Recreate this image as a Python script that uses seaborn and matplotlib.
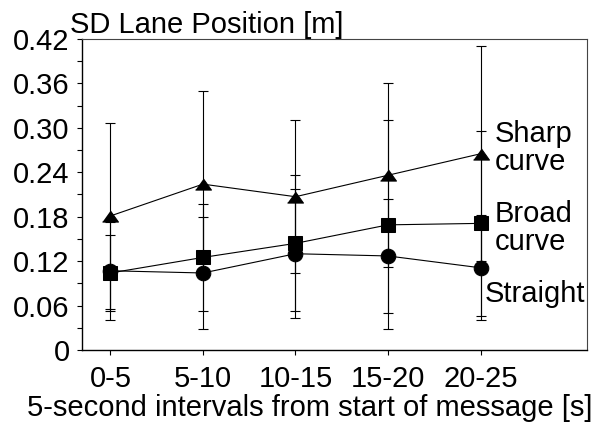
import matplotlib
matplotlib.use("Agg")
import matplotlib.pyplot as plt
from matplotlib.ticker import MultipleLocator, FixedLocator
import numpy as np
import pandas as pd
import seaborn as sns

intervals = ["0-5", "5-10", "10-15", "15-20", "20-25"]
sharp = [0.181, 0.224, 0.207, 0.236, 0.265]
broad = [0.104, 0.125, 0.144, 0.169, 0.171]
straight = [0.107, 0.104, 0.130, 0.127, 0.111]
sharp_sd = [0.125, 0.126, 0.103, 0.124, 0.145]
broad_sd = [0.051, 0.072, 0.092, 0.141, 0.125]
straight_sd = [0.066, 0.075, 0.087, 0.077, 0.071]
series_names = ["Sharp curve", "Broad curve", "Straight"]
y_ticks = [0, 0.06, 0.12, 0.18, 0.24, 0.30, 0.36, 0.42]
y_tick_labels = ["0", "0.06", "0.12", "0.18", "0.24", "0.30", "0.36", "0.42"]

sns.set_theme(style="ticks")
plt.rcParams["font.family"] = ["Liberation Sans", "DejaVu Sans"]
FS = 21

xpos = np.arange(len(intervals))
df = pd.DataFrame({
    "x": np.tile(xpos, 3),
    "sd": sharp + broad + straight,
    "err": sharp_sd + broad_sd + straight_sd,
    "condition": np.repeat(series_names, len(intervals)),
})

tri = np.array([[-1.0, -0.7], [1.0, -0.7], [0.0, 0.7]])
marker_map = {"Sharp curve": (tri, 11.5), "Broad curve": ("s", 10.5), "Straight": ("o", 10.5)}

fig = plt.figure(figsize=(6.06, 4.23), dpi=100)
ax = fig.add_axes([0.1348, 0.1726, 0.8338, 0.7352])

for name in series_names:
    sub = df[df["condition"] == name]
    ax.errorbar(sub["x"], sub["sd"], yerr=sub["err"], fmt="none", ecolor="black",
                elinewidth=0.8, capsize=3.6, capthick=0.8, zorder=2)
for name in series_names:
    sub = df[df["condition"] == name]
    m, ms = marker_map[name]
    sns.lineplot(data=sub, x="x", y="sd", marker=m, markersize=ms, color="black",
                 markeredgecolor="black", markerfacecolor="black", linewidth=0.8,
                 sort=False, legend=False, ax=ax, zorder=3)

ax.set_xlim(-0.31, 5.15)
ax.set_ylim(0, 0.42)
ax.xaxis.set_major_locator(FixedLocator(xpos))
ax.set_xticklabels(intervals)
ax.set_yticks(y_ticks)
ax.set_yticklabels(y_tick_labels)
ax.yaxis.set_minor_locator(MultipleLocator(0.03))
ax.tick_params(axis="both", which="both", direction="out", length=3.6, width=0.8,
               color="black", labelsize=FS, labelcolor="black")
ax.tick_params(axis="y", which="major", pad=5)
ax.tick_params(axis="x", which="major", pad=7.5)
ax.tick_params(axis="x", which="minor", bottom=False)

for side in ["top", "right", "left", "bottom"]:
    ax.spines[side].set_visible(True)
ax.spines["left"].set_color("black")
ax.spines["bottom"].set_color("black")
ax.spines["left"].set_linewidth(1.0)
ax.spines["bottom"].set_linewidth(1.0)
ax.spines["top"].set_color("#444444")
ax.spines["right"].set_color("#444444")
ax.spines["top"].set_linewidth(0.8)
ax.spines["right"].set_linewidth(0.8)

ax.set_xlabel("5-second intervals from start of message [s]", fontsize=FS, color="black")
ax.xaxis.set_label_coords(0.452, -0.14)
ax.set_ylabel("")
fig.text(70 / 606, 1 - 33 / 423, "SD Lane Position [m]", ha="left", va="baseline",
         fontsize=FS, color="black")

ax.text(4.15, 0.273, "Sharp\ncurve", ha="left", va="center", fontsize=FS,
        linespacing=1.0, color="black")
ax.text(4.15, 0.165, "Broad\ncurve", ha="left", va="center", fontsize=FS,
        linespacing=1.0, color="black")
ax.text(4.04, 0.075, "Straight", ha="left", va="center", fontsize=FS, color="black")

fig.savefig("out.png", dpi=100, facecolor="white")
